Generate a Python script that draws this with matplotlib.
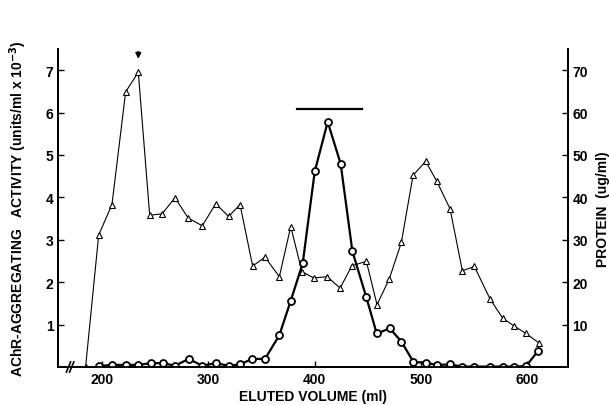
import matplotlib.pyplot as plt
import numpy as np

# activity (triangles), units/ml x 10^-3
actX = [184.6, 196.9, 209.4, 222.3, 234.2, 244.9, 256.5, 268.7, 281.2, 294.4, 307.0, 319.2,
        329.9, 341.8, 353.4, 366.9, 377.6, 388.2, 399.2, 412.0, 424.0, 435.3, 448.8, 458.8,
        470.4, 481.7, 492.7, 504.6, 515.0, 527.5, 539.1, 550.4, 565.2, 577.1, 587.5, 599.0, 611.0]
actY = [0.0, 3.11, 3.83, 6.49, 6.95, 3.58, 3.61, 3.99, 3.51, 3.33, 3.85, 3.55,
        3.83, 2.38, 2.59, 2.13, 3.31, 2.25, 2.10, 2.13, 1.86, 2.39, 2.49, 1.47,
        2.08, 2.94, 4.52, 4.85, 4.38, 3.73, 2.27, 2.37, 1.60, 1.15, 0.97, 0.79, 0.57]

# protein (circles), ug/ml
protX = [196.9, 209.4, 222.3, 234.2, 245.8, 257.7, 268.7, 281.6, 294.4, 307.0, 319.2, 329.9,
         341.2, 353.4, 366.9, 377.6, 388.9, 400.2, 412.4, 424.6, 435.6, 448.8, 458.5, 470.8,
         481.7, 493.0, 504.6, 515.0, 527.5, 539.0, 550.4, 565.0, 577.0, 587.5, 599.0, 610.0]
protY = [0.2, 0.5, 0.5, 0.5, 0.9, 0.9, 0.3, 1.9, 0.3, 0.9, 0.3, 0.6,
         1.9, 1.9, 7.5, 15.6, 24.5, 46.1, 57.8, 47.9, 27.3, 16.4, 7.9, 9.1,
         6.0, 1.2, 1.0, 0.5, 0.6, 0.1, 0.1, 0.1, 0.1, 0.1, 0.2, 3.7]

xticks = [200, 300, 400, 500, 600]
leftTicks = [1, 2, 3, 4, 5, 6, 7]
rightTicks = [10, 20, 30, 40, 50, 60, 70]

plt.rcParams['font.family'] = ['Liberation Sans', 'DejaVu Sans']
plt.rcParams['font.weight'] = 'bold'

fig = plt.figure(figsize=(6.09, 4.06), dpi=100)
ax = fig.add_axes([0.0957, 0.0936, 0.8363, 0.7834])
ax2 = ax.twinx()

ax.plot(actX, actY, color='black', lw=0.8, marker='^', ms=4.5, mfc='white', mec='black', mew=0.8)
ax2.plot(protX, protY, color='black', lw=1.6, marker='o', ms=5, mfc='white', mec='black', mew=1.3)

ax.set_xlim(158.9, 638.1)
ax.set_ylim(0, 7.5)
ax2.set_ylim(0, 75)

ax.set_xticks(xticks)
ax.set_yticks(leftTicks)
ax2.set_yticks(rightTicks)

for a in (ax, ax2):
    a.spines['top'].set_visible(False)
    for s in a.spines.values():
        s.set_linewidth(1.3)
    a.tick_params(direction='in', length=4, width=1, labelsize=10)
    for lab in a.get_xticklabels() + a.get_yticklabels():
        lab.set_fontweight('bold')

ax.set_xlabel('ELUTED VOLUME (ml)', fontsize=10, fontweight='bold', labelpad=2)
ax.set_ylabel('AChR-AGGREGATING   ACTIVITY (units/ml x 10$^{-3}$)', fontsize=10,
              fontweight='bold', labelpad=12)
ax2.set_ylabel('PROTEIN  (ug/ml)', fontsize=10, fontweight='bold', labelpad=6)

# peak arrow and pooled fraction bar
ax.annotate('', xy=(234.2, 7.2), xytext=(234.2, 7.5),
            arrowprops=dict(arrowstyle='-|>', color='black', lw=1.2, mutation_scale=8),
            annotation_clip=False)
ax.plot([383.8, 445.0], [6.08, 6.08], color='black', lw=1.6)

# axis break mark
for dx in (-1.5, 1.5):
    ax.plot([170 + dx - 2, 170 + dx + 2], [-0.12, 0.12], color='black', lw=1.2, clip_on=False)

fig.savefig('out.png', dpi=100)
